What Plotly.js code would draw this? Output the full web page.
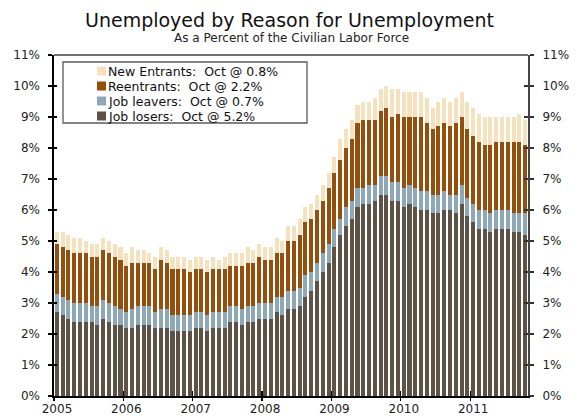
<!DOCTYPE html>
<html><head><meta charset="utf-8">
<script src="https://cdn.plot.ly/plotly-3.0.1.min.js"></script>
<style>html,body{margin:0;padding:0;background:#fff}#chart{width:579px;height:416px}</style>
</head><body><div id="chart"></div>
<script>
const years = ['2005','2006','2007','2008','2009','2010','2011'];
const monthNames = ['Jan','Feb','Mar','Apr','May','Jun','Jul','Aug','Sep','Oct','Nov','Dec'];
// Jan 2005 .. Oct 2011 (82 months)
const months = [];
years.forEach(y => monthNames.forEach(m => months.push(m + ' ' + y)));
months.length = 82;

const seriesNames = ['Job losers', 'Job leavers', 'Reentrants', 'New Entrants'];
const seriesColors = ['#5e5246', '#8fa8b8', '#954f0d', '#f4e1bd'];

const jobLosers = [
  2.7,2.6,2.5,2.4,2.4,2.4,2.4,2.3,2.5,2.4,2.3,2.3,
  2.2,2.2,2.3,2.3,2.3,2.2,2.2,2.2,2.1,2.1,2.1,2.1,
  2.2,2.2,2.1,2.2,2.2,2.2,2.4,2.4,2.3,2.4,2.4,2.5,
  2.5,2.5,2.7,2.6,2.8,2.8,2.9,3.2,3.4,3.7,4.0,4.3,
  4.8,5.2,5.5,5.7,6.1,6.2,6.2,6.3,6.5,6.5,6.3,6.3,
  6.1,6.2,6.1,6.0,6.0,5.9,5.9,6.0,6.0,5.9,6.2,5.8,
  5.6,5.4,5.4,5.3,5.4,5.4,5.4,5.3,5.3,5.2];
const jobLeavers = [
  0.6,0.6,0.6,0.6,0.6,0.6,0.5,0.6,0.6,0.6,0.6,0.5,
  0.5,0.6,0.6,0.6,0.6,0.5,0.6,0.6,0.5,0.5,0.5,0.5,
  0.5,0.5,0.5,0.5,0.5,0.5,0.5,0.5,0.5,0.5,0.5,0.5,
  0.5,0.5,0.5,0.6,0.6,0.6,0.6,0.7,0.6,0.6,0.6,0.6,
  0.6,0.5,0.6,0.6,0.6,0.5,0.6,0.5,0.6,0.6,0.6,0.6,
  0.6,0.6,0.6,0.6,0.6,0.6,0.6,0.6,0.5,0.6,0.6,0.6,
  0.6,0.6,0.6,0.6,0.6,0.6,0.6,0.6,0.6,0.7];
const reentrants = [
  1.6,1.6,1.6,1.6,1.6,1.6,1.6,1.6,1.6,1.6,1.6,1.6,
  1.5,1.5,1.4,1.4,1.4,1.4,1.6,1.5,1.5,1.5,1.5,1.4,
  1.4,1.4,1.4,1.4,1.4,1.4,1.3,1.3,1.4,1.4,1.4,1.5,
  1.4,1.4,1.4,1.4,1.6,1.6,1.7,1.7,1.7,1.7,1.7,1.8,
  1.8,1.9,1.9,2.0,2.1,2.2,2.1,2.1,2.1,2.2,2.1,2.2,
  2.3,2.2,2.3,2.4,2.2,2.1,2.2,2.2,2.2,2.3,2.2,2.2,
  2.2,2.2,2.1,2.2,2.2,2.2,2.2,2.3,2.3,2.2];
const newEntrants = [
  0.4,0.5,0.5,0.5,0.5,0.4,0.4,0.4,0.4,0.4,0.4,0.4,
  0.4,0.5,0.4,0.4,0.3,0.4,0.4,0.4,0.4,0.4,0.4,0.4,
  0.4,0.4,0.4,0.4,0.3,0.4,0.4,0.4,0.4,0.5,0.4,0.4,
  0.4,0.4,0.5,0.4,0.5,0.5,0.5,0.5,0.5,0.5,0.5,0.5,
  0.5,0.7,0.6,0.6,0.6,0.6,0.6,0.7,0.7,0.7,0.9,0.8,
  0.8,0.8,0.8,0.8,0.8,0.7,0.8,0.8,0.8,0.8,0.8,0.9,
  0.9,0.9,0.9,0.9,0.8,0.8,0.8,0.8,0.9,0.8];
const seriesValues = [jobLosers, jobLeavers, reentrants, newEntrants];
const yTickValues = [0,1,2,3,4,5,6,7,8,9,10,11];

const xIndex = months.map((m, i) => i);
const xRange = [-0.5, months.length - 0.5];
const yearTickPos = years.map((y, k) => 12 * k - 0.5);
const yRange = [0, 11];

const traces = seriesValues.map((vals, s) => ({
  type: 'bar', name: seriesNames[s], x: xIndex, y: vals,
  customdata: months, textposition: 'none',
  hovertemplate: '%{customdata}: %{y}%<extra>' + seriesNames[s] + '</extra>',
  marker: {color: seriesColors[s], line: {width: 0}}, showlegend: false
}));
// empty helper traces so the extra tick axes are drawn
[['x','y2'],['x','y3'],['x','y4'],['x2','y']].forEach(([xa, ya]) =>
  traces.push({type:'scatter', x:[], y:[], xaxis:xa, yaxis:ya, showlegend:false, hoverinfo:'skip'}));

// plot area pixel geometry
const W = 579, H = 416, ML = 54, MR = 51, MT = 55, MB = 20;
const PW = W - ML - MR, PH = H - MT - MB;
const px2x = p => (p - ML) / PW;
const px2y = p => 1 - (p - MT) / PH;

const lastMonth = months[months.length - 1].split(' ')[0];
const shapes = [
  {type:'line', xref:'paper', yref:'paper', x0:0, x1:1, y0:1, y1:1, line:{color:'#707070', width:2}},
  {type:'rect', xref:'paper', yref:'paper', x0:px2x(63), x1:px2x(307), y0:px2y(123), y1:px2y(62),
   line:{color:'#5a5a5a', width:1.3}, fillcolor:'rgba(0,0,0,0)'}
];
const annotations = [
  {xref:'paper', yref:'paper', x:px2x(291), y:px2y(38), xanchor:'center', yanchor:'middle',
   text:'As a Percent of the Civilian Labor Force', showarrow:false, font:{size:12, color:'#222'}}
];
// legend (top to bottom: New Entrants, Reentrants, Job leavers, Job losers)
[3,2,1,0].forEach((s, row) => {
  const yc = 71 + 15 * row;
  const vals = seriesValues[s];
  shapes.push({type:'rect', xref:'paper', yref:'paper', x0:px2x(97), x1:px2x(106),
    y0:px2y(yc + 4.5), y1:px2y(yc - 4.5), line:{width:0}, fillcolor:seriesColors[s]});
  annotations.push({xref:'paper', yref:'paper', x:px2x(105.5), y:px2y(yc + 0.5), xanchor:'left', yanchor:'middle',
    text: seriesNames[s] + ':  ' + lastMonth + ' @ ' + vals[vals.length - 1].toFixed(1) + '%',
    showarrow:false, font:{size:12.5, color:'#111'}});
});

const yTickText = yTickValues.map(v => v + '%');
const common = {showgrid:false, zeroline:false, fixedrange:true};
const layout = {
  width: W, height: H,
  margin: {l: ML, r: MR, t: MT, b: MB, pad: 0},
  paper_bgcolor: '#fff', plot_bgcolor: '#fff',
  font: {family: 'DejaVu Sans, Verdana, sans-serif', size: 12, color: '#222'},
  title: {text: 'Unemployed by Reason for Unemployment', font: {size: 19, color: '#111'},
          xref: 'container', x: 0.5, xanchor: 'center', yref: 'container', y: 1 - 20 / H, yanchor: 'middle'},
  barmode: 'stack', bargap: 0.3,
  showlegend: false,
  xaxis: Object.assign({}, common, {range: xRange, tickmode: 'array', tickvals: yearTickPos, ticktext: years,
    ticks: 'outside', ticklen: 3, tickwidth: 1.3, tickcolor: '#000',
    showline: true, linecolor: '#000', linewidth: 1.6, ticklabelshift: 3, ticklabelstandoff: -2,
    tickfont: {size: 12, color: '#222'}}),
  xaxis2: Object.assign({}, common, {overlaying: 'x', anchor: 'y', side: 'bottom', range: xRange,
    tickmode: 'array', tickvals: yearTickPos, ticks: 'inside', ticklen: 5, tickwidth: 1.3, tickcolor: '#000',
    showticklabels: false, showline: false}),
  yaxis: Object.assign({}, common, {range: yRange, tickmode: 'array', tickvals: yTickValues, ticktext: yTickText,
    ticks: 'outside', ticklen: 4, tickwidth: 1.3, tickcolor: '#000',
    showline: true, linecolor: '#000', linewidth: 1.6, ticklabelstandoff: 6, tickfont: {size: 12, color: '#222'}}),
  yaxis2: Object.assign({}, common, {overlaying: 'y', anchor: 'x', side: 'right', range: yRange,
    tickmode: 'array', tickvals: yTickValues, ticktext: yTickText,
    ticks: 'outside', ticklen: 4, tickwidth: 1.3, tickcolor: '#333',
    showline: true, linecolor: '#444', linewidth: 2, ticklabelstandoff: 6, tickfont: {size: 12, color: '#222'}}),
  yaxis3: Object.assign({}, common, {overlaying: 'y', anchor: 'x', side: 'left', range: yRange,
    tickmode: 'array', tickvals: yTickValues, ticks: 'inside', ticklen: 3, tickwidth: 1.3, tickcolor: '#000',
    showticklabels: false, showline: false}),
  yaxis4: Object.assign({}, common, {overlaying: 'y', anchor: 'x', side: 'right', range: yRange,
    tickmode: 'array', tickvals: yTickValues, ticks: 'inside', ticklen: 4, tickwidth: 1.3, tickcolor: '#333',
    showticklabels: false, showline: false}),
  shapes: shapes,
  annotations: annotations
};
Plotly.newPlot('chart', traces, layout, {displayModeBar: false, staticPlot: true});
</script></body></html>
